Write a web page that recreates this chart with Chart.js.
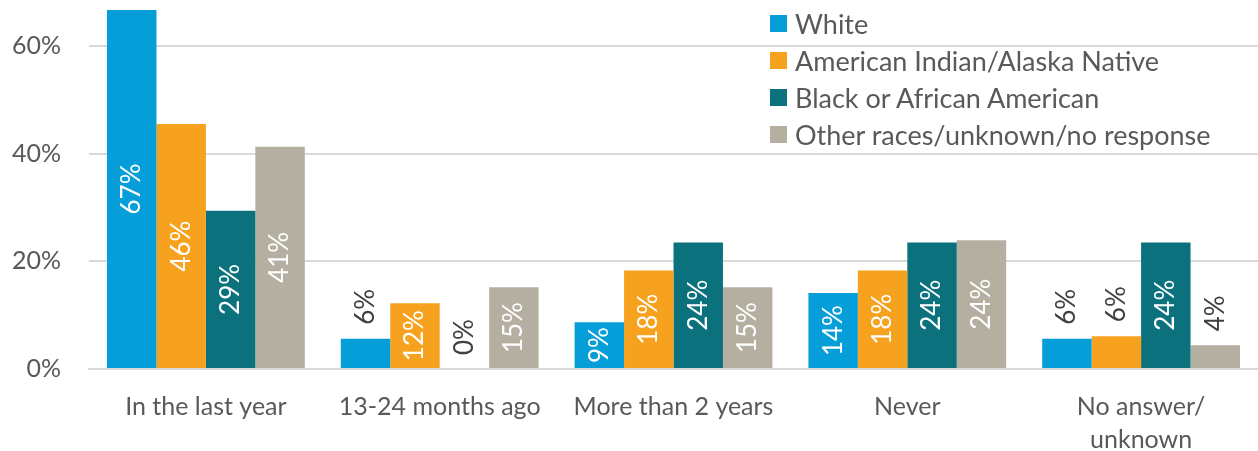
<!DOCTYPE html>
<html lang="en">
<head>
    <meta charset="UTF-8">
    <title>Last visit by race</title>
    <script src="https://cdn.jsdelivr.net/npm/chart.js"></script>
    <style>
        body {
            margin: 0;
            background: #fff;
            font-family: 'Lato', 'Open Sans', sans-serif;
        }

        .wrap {
            position: relative;
            width: 1258px;
            height: 451px;
        }

        /* legend sits over the plot, top right */
        .legend {
            position: absolute;
            left: 770px;
            top: 5px;
            margin: 0;
            padding: 0;
            list-style: none;
            color: #595959;
            font-size: 27px;
        }

        .legend li {
            display: flex;
            align-items: center;
            height: 37px;
        }

        .legend span {
            display: inline-block;
            width: 17px;
            height: 17px;
            margin-right: 8px;
        }
    </style>
</head>
<body>
    <div class="wrap">
        <canvas id="visitChart" width="1258" height="451"></canvas>
        <ul class="legend" id="legend"></ul>
    </div>

    <script>
        // categories and series (percent)
        const categories = ["In the last year", "13-24 months ago", "More than 2 years", "Never", ["No answer/", "unknown"]];
        const seriesNames = ["White", "American Indian/Alaska Native", "Black or African American", "Other races/unknown/no response"];
        const white = [66.7, 5.6, 8.7, 14.1, 5.6];
        const amIndian = [45.5, 12.2, 18.3, 18.3, 6.1];
        const black = [29.4, 0, 23.5, 23.5, 23.5];
        const other = [41.3, 15.2, 15.2, 23.9, 4.4];
        const yTicks = [0, 20, 40, 60];
        const colors = ['#069ED9', '#F7A21F', '#0B727D', '#B5AFA2'];

        const textColor = '#595959';
        const fontFamily = "'Lato', 'Open Sans', sans-serif";

        // rotated value labels: inside the bar if it is tall enough, else above it
        const barLabels = {
            id: 'barLabels',
            afterDatasetsDraw(chart) {
                const ctx = chart.ctx;
                ctx.save();
                ctx.font = `26px ${fontFamily}`;
                chart.data.datasets.forEach((ds, i) => {
                    chart.getDatasetMeta(i).data.forEach((bar, j) => {
                        const v = ds.data[j];
                        const txt = Math.round(v) + '%';
                        ctx.save();
                        if (v >= 7) {
                            ctx.translate(bar.x, (bar.y + bar.base) / 2);
                            ctx.rotate(-Math.PI / 2);
                            ctx.textAlign = 'center';
                            ctx.fillStyle = '#fff';
                        } else {
                            ctx.translate(bar.x, bar.y - 14);
                            ctx.rotate(-Math.PI / 2);
                            ctx.textAlign = 'left';
                            ctx.fillStyle = '#404040';
                        }
                        ctx.textBaseline = 'middle';
                        ctx.fillText(txt, 0, 0);
                        ctx.restore();
                    });
                });
                ctx.restore();
            }
        };

        const datasets = [white, amIndian, black, other].map((d, i) => ({
            label: seriesNames[i],
            data: d,
            backgroundColor: colors[i],
            borderWidth: 0,
            categoryPercentage: 0.846,
            barPercentage: 1
        }));

        const ctx = document.getElementById('visitChart').getContext('2d');
        new Chart(ctx, {
            type: 'bar',
            data: { labels: categories, datasets: datasets },
            options: {
                responsive: false,
                animation: false,
                layout: { padding: { top: 10, right: 0, left: 0, bottom: 0 } },
                plugins: {
                    legend: { display: false },
                    tooltip: { enabled: false }
                },
                scales: {
                    x: {
                        grid: { display: false },
                        border: { color: '#d9d9d9', width: 2 },
                        ticks: {
                            color: textColor,
                            font: { family: fontFamily, size: 25, lineHeight: 1.3 },
                            padding: 14,
                            maxRotation: 0
                        },
                        afterFit: (scale) => {
                            scale.height = 82;
                            scale.paddingLeft = 0;
                            scale.paddingRight = 0;
                        }
                    },
                    y: {
                        min: 0,
                        max: 66.7,
                        afterBuildTicks: (scale) => {
                            scale.ticks = yTicks.map(v => ({ value: v }));
                        },
                        grid: { color: '#d9d9d9', lineWidth: 2, drawTicks: false },
                        border: { display: false },
                        ticks: {
                            color: textColor,
                            font: { family: fontFamily, size: 25 },
                            padding: 28,
                            callback: (v) => v + '%'
                        },
                        afterFit: (scale) => {
                            scale.width = 89;
                            scale.paddingTop = 0;
                            scale.paddingBottom = 0;
                        }
                    }
                }
            },
            plugins: [barLabels]
        });

        // html legend
        const legend = document.getElementById('legend');
        seriesNames.forEach((name, i) => {
            const li = document.createElement('li');
            li.innerHTML = `<span style="background:${colors[i]}"></span>${name}`;
            legend.appendChild(li);
        });
    </script>
</body>
</html>
